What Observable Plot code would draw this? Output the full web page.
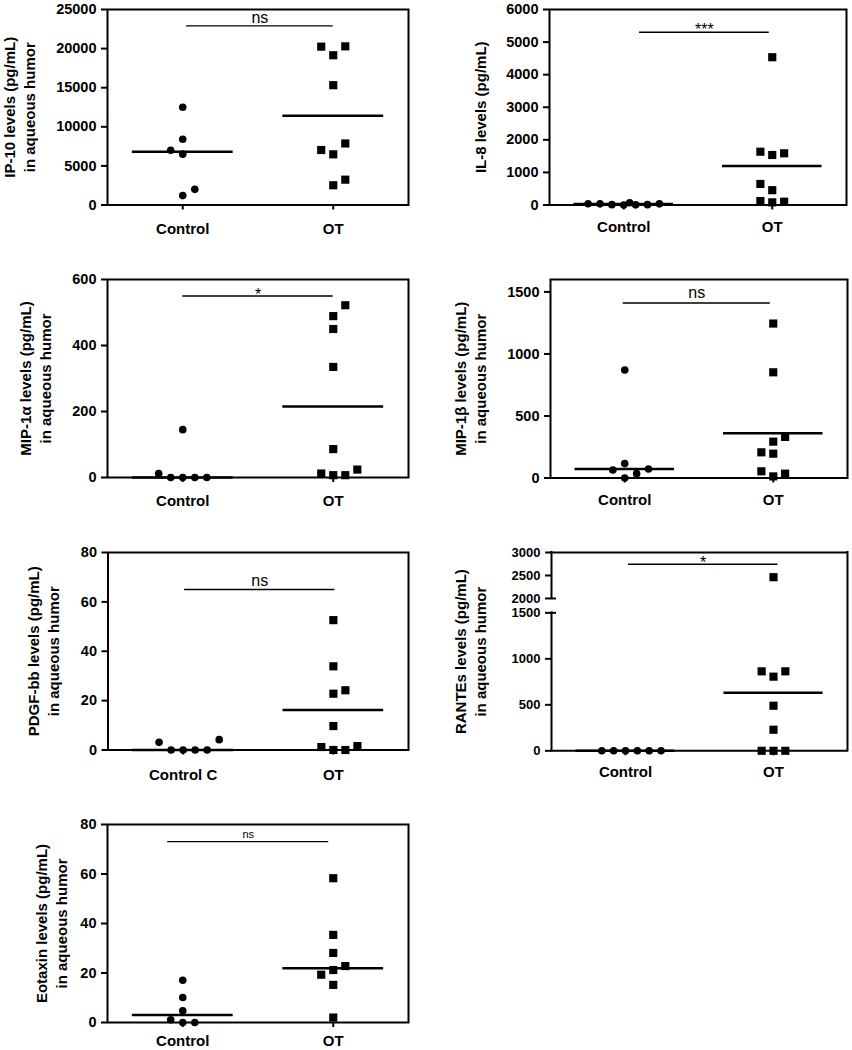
<!DOCTYPE html>
<html><head><meta charset="utf-8">
<script src="https://cdn.jsdelivr.net/npm/d3@7"></script>
<script src="https://cdn.jsdelivr.net/npm/@observablehq/plot@0.6"></script>
<style>
body{margin:0;background:#fff;}
#root{position:relative;width:852px;height:1050px;overflow:hidden;font-family:"Liberation Sans",Arial,sans-serif;}
#root svg{position:absolute;}
</style></head><body><div id="root"></div>
<script>
// ---------- data ----------
const groupLabels = ["Control", "OT"];
const groupLabelsPDGF = ["Control C", "OT"];

const ip10Control = [12500, 8400, 7000, 6500, 2000, 1200];
const ip10ControlSlot = [0, 0, -1, 0, 1, 0];
const ip10OT = [20250, 20290, 19150, 15320, 7030, 7870, 6480, 2525, 3240];
const ip10OTSlot = [-1, 1, 0, 0, -1, 1, 0, 0, 1];
const ip10Lines = [6800, 11400];

const il8Control = [40, 35, 10, 0, 70, 5, 10, 35];
const il8ControlSlot = [-3, -2, -1, 0, 0.5, 1, 2, 3];
const il8OT = [4535, 1636, 1535, 1586, 646, 455, 121, 81, 101];
const il8OTSlot = [0, -1, 0, 1, -1, 0, -1, 0, 1];
const il8Lines = [30, 1200];

const mip1aControl = [12, 0, 0, 0, 0, 145];
const mip1aControlSlot = [-2, -1, 0, 1, 2, 0];
const mip1aOT = [522, 489, 450, 335, 86, 12, 7, 7, 24];
const mip1aOTSlot = [1, 0, 0, 0, 0, -1, 0, 1, 2];
const mip1aLines = [0, 215];

const mip1bControl = [871, 116, 65, 73, 35, 0];
const mip1bControlSlot = [0, 0, -1, 2, 1, 0];
const mip1bOT = [1245, 852, 331, 293, 207, 196, 54, 13, 35];
const mip1bOTSlot = [0, 0, 1, 0, -1, 0, -1, 0, 1];
const mip1bLines = [73, 360];

const pdgfControl = [3.1, 0, 0, 0, 0, 4.2];
const pdgfControlSlot = [-2, -1, 0, 1, 2, 3];
const pdgfOT = [52.6, 33.9, 22.8, 24.2, 9.7, 1.2, 0, 0, 1.6];
const pdgfOTSlot = [0, 0, 0, 1, 0, -1, 0, 1, 2];
const pdgfLines = [0, 16.2];

const rantesControl = [0, 0, 0, 0, 0, 0];
const rantesControlSlot = [-2, -1, 0, 1, 2, 3];
const rantesOT = [2463, 864, 806, 864, 490, 229, 0, 0, 0];
const rantesOTSlot = [0, -1, 0, 1, 0, 0, -1, 0, 1];
const rantesLines = [0, 632];
const rantesBreak = [1500, 2000];   // axis break between these values

const eotaxinControl = [17.1, 10.1, 4.7, 1.1, 0, 0];
const eotaxinControlSlot = [0, 0, 0, -1, 0, 1];
const eotaxinOT = [58.3, 35.4, 28.1, 22.8, 21.2, 19.3, 15.2, 2.0];
const eotaxinOTSlot = [0, 0, 0, 1, 0, -1, 0, 0];
const eotaxinLines = [3.0, 21.9];

const sigY = [22900, 5300, 550, 1410, 65, 2743, 73.1];
const sigFrom = [1.025, 1.106, 1.0, 0.99, 1.01, 1.02, 0.9];
const sigTo = [2.0, 1.98, 2.0, 1.98, 2.01, 2.03, 1.97];
const sigLabels = ["ns", "***", "*", "ns", "ns", "*", "ns"];

const yLabels = [
  "IP-10 levels (pg/mL)\nin aqueous humor",
  "IL-8 levels (pg/mL)",
  "MIP-1α levels (pg/mL)\nin aqueous humor",
  "MIP-1β levels (pg/mL)\nin aqueous humor",
  "PDGF-bb levels (pg/mL)\nin aqueous humor",
  "RANTEs levels (pg/mL)\nin aqueous humor",
  "Eotaxin levels (pg/mL)\nin aqueous humor"
];

const yTicks = [
  [0, 5000, 10000, 15000, 20000, 25000],
  [0, 1000, 2000, 3000, 4000, 5000, 6000],
  [0, 200, 400, 600],
  [0, 500, 1000, 1500],
  [0, 20, 40, 60, 80],
  [0, 500, 1000, 1500, 2000, 2500, 3000],
  [0, 20, 40, 60, 80]
];
const yMax = [25000, 6000, 600, 1600, 80, 3000, 80];

// ---------- layout (styles/positions) ----------
// the broken RANTES axis: gap 1500-2000 squeezed, 2000-3000 drawn at half scale
const gapFactor = 0.3125, upperFactor = 0.5;
function brk(v) {
  const [a, b] = rantesBreak;
  if (v <= a) return v;
  if (v <= b) return a + (v - a) * gapFactor;
  return a + (b - a) * gapFactor + (v - b) * upperFactor;
}
const ident = v => v;

const layout = [
  {frame: [107, 408, 8.5, 204], col: 0, labelX: 18, sigSize: 16, sigDy: -3, xPad: 13, tickFont: 14.5},
  {frame: [549, 846, 8.5, 204], col: 1, labelX: 479, sigSize: 16, sigDy: 3, xPad: 11.5, tickFont: 14.5},
  {frame: [107, 408, 279, 477], col: 0, labelX: 34, sigSize: 16, sigDy: 3.5, xPad: 12.5, tickFont: 14.5},
  {frame: [550, 847, 278.5, 477], col: 1, labelX: 469, sigSize: 16, sigDy: -5, xPad: 11.5, tickFont: 14.5},
  {frame: [107.5, 408, 552, 749.5], col: 0, labelX: 42, sigSize: 16, sigDy: -4, xPad: 14, tickFont: 14.5},
  {frame: [551, 847, 551.7, 750], col: 1, labelX: 469, sigSize: 16, sigDy: 3.5, xPad: 11, tickFont: 13, broken: true},
  {frame: [107, 408, 824, 1022], col: 0, labelX: 50, sigSize: 11, sigDy: -4, xPad: 8, tickFont: 14.5}
];

const panelData = [
  [ip10Control, ip10ControlSlot, ip10OT, ip10OTSlot, ip10Lines, groupLabels],
  [il8Control, il8ControlSlot, il8OT, il8OTSlot, il8Lines, groupLabels],
  [mip1aControl, mip1aControlSlot, mip1aOT, mip1aOTSlot, mip1aLines, groupLabels],
  [mip1bControl, mip1bControlSlot, mip1bOT, mip1bOTSlot, mip1bLines, groupLabels],
  [pdgfControl, pdgfControlSlot, pdgfOT, pdgfOTSlot, pdgfLines, groupLabelsPDGF],
  [rantesControl, rantesControlSlot, rantesOT, rantesOTSlot, rantesLines, groupLabels],
  [eotaxinControl, eotaxinControlSlot, eotaxinOT, eotaxinOTSlot, eotaxinLines, groupLabels]
];

const root = document.getElementById("root");
const FONT = "Liberation Sans, Arial, sans-serif";
const SLOT = 0.08;

panelData.forEach((pd, i) => {
  const [ctrl, ctrlSlot, ot, otSlot, lines, glabels] = pd;
  const lay = layout[i];
  const fy = lay.broken ? brk : ident;
  const [L, R, T, B] = lay.frame;
  const svgLeft = lay.col === 0 ? 0 : 430;
  const mt = 30, mb = 42, mr = 4;
  const ml = L - svgLeft;
  const width = R + mr - svgLeft;
  const h = B - T;
  const height = h + mt + mb;

  const ctrlPts = ctrl.map((v, k) => ({g: 1, v, s: ctrlSlot[k]}));
  const otPts = ot.map((v, k) => ({g: 2, v, s: otSlot[k]}));
  const lineRows = lines.map((v, k) => ({g: k + 1, v}));
  const sig = {y: sigY[i], x1: sigFrom[i], x2: sigTo[i], label: sigLabels[i]};

  const tickVals = yTicks[i];
  const tickPos = tickVals.map(fy);
  const tickLabel = new Map(tickPos.map((p, k) => [p, String(tickVals[k])]));

  const unitPx = (R - L) / 2;
  const top = yMax[i];
  const marks = [
    Plot.axisY(tickPos, {tickFormat: p => tickLabel.get(p), tickSize: 6, tickPadding: 5,
      fontSize: lay.tickFont, fontWeight: "bold", fontFamily: FONT, strokeWidth: 2, label: null, fill: "black"}),
    Plot.axisX({ticks: [1, 2], tickFormat: d => glabels[d - 1], tickSize: 5, tickPadding: lay.xPad,
      fontSize: 15, fontWeight: "bold", fontFamily: FONT, strokeWidth: 2, label: null, fill: "black"})
  ];
  if (lay.broken) {
    const [a, b] = rantesBreak;
    marks.push(
      Plot.ruleX([{a: 0, b: a}, {a: b, b: top}], {x: 0.5, y1: d => fy(d.a), y2: d => fy(d.b), strokeWidth: 2, stroke: "black", strokeLinecap: "square"}),
      Plot.ruleX([2.5], {x: v => v, y1: fy(0), y2: fy(top), strokeWidth: 2, stroke: "black", strokeLinecap: "square"}),
      Plot.ruleY([0, top], {y: v => fy(v), x1: 0.5, x2: 2.5, strokeWidth: 2, stroke: "black", strokeLinecap: "square"}),
      Plot.ruleY([a, b], {y: v => fy(v), x1: 0.5, x2: 0.5 + 5 / unitPx, strokeWidth: 2, stroke: "black"})
    );
  } else {
    marks.push(Plot.frame({stroke: "black", strokeWidth: 2}));
  }
  marks.push(
    Plot.ruleY(lineRows, {y: d => fy(d.v), x1: d => d.g - 0.335, x2: d => d.g + 0.335, stroke: "black", strokeWidth: 2.5}),
    Plot.dot(ctrlPts, {x: d => d.g + d.s * SLOT, y: d => fy(d.v), r: 3.8, fill: "black", symbol: "circle"}),
    Plot.dot(otPts, {x: d => d.g + d.s * SLOT, y: d => fy(d.v), r: 4.6, fill: "black", symbol: "square"}),
    Plot.ruleY([sig], {y: d => fy(d.y), x1: "x1", x2: "x2", stroke: "black", strokeWidth: 1.4}),
    Plot.text([sig], {x: d => (d.x1 + d.x2) / 2, y: d => fy(d.y), text: "label", fontSize: lay.sigSize,
      fontFamily: FONT, lineAnchor: "bottom", dy: lay.sigDy, fill: "black"}),
    Plot.text([yLabels[i]], {frameAnchor: "left", dx: lay.labelX - L, rotate: -90, text: d => d,
      fontSize: 15, fontWeight: "bold", fontFamily: FONT, lineHeight: 1.33, lineAnchor: "middle",
      textAnchor: "middle", fill: "black"})
  );

  const chart = Plot.plot({
    width, height, marginLeft: ml, marginRight: mr, marginTop: mt, marginBottom: mb,
    style: {background: "transparent", overflow: "visible", fontFamily: FONT},
    x: {domain: [0.5, 2.5], axis: null},
    y: {domain: [fy(0), fy(top)], axis: null},
    marks
  });
  chart.style.left = svgLeft + "px";
  chart.style.top = (T - mt) + "px";
  chart.style.maxWidth = "none";
  root.appendChild(chart);
});
</script>
</body></html>
